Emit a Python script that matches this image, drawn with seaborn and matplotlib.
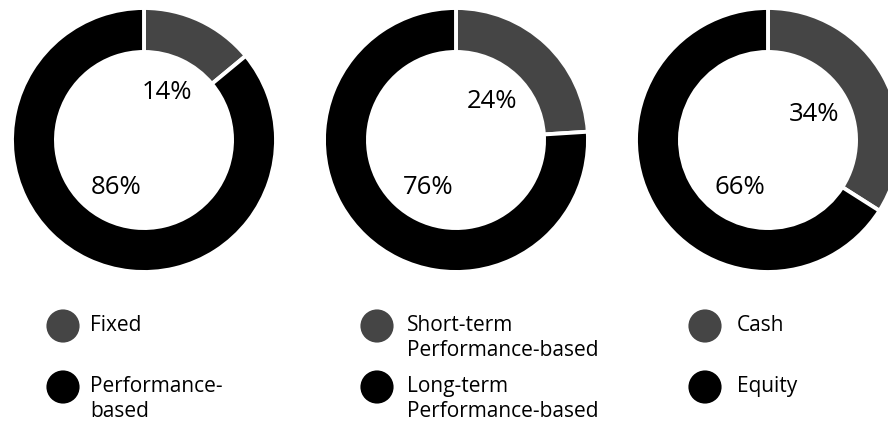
import matplotlib
matplotlib.use("Agg")
import matplotlib.pyplot as plt
import seaborn as sns

# share of each component per donut (grey slice first, then black)
fixed_vs_perf = [14, 86]
short_vs_long = [24, 76]
cash_vs_equity = [34, 66]
chart_values = [fixed_vs_perf, short_vs_long, cash_vs_equity]

legend_labels = [
    ["Fixed", "Performance-\nbased"],
    ["Short-term\nPerformance-based", "Long-term\nPerformance-based"],
    ["Cash", "Equity"],
]

sns.set_theme(style="white")
plt.rcParams["font.family"] = ["Open Sans", "DejaVu Sans"]

W, H = 888, 421
fig = plt.figure(figsize=(W / 100, H / 100), dpi=100)
fig.patch.set_facecolor("white")

slice_colors = ["#454545", "#000000"]
centers_x = [144, 456, 768]
center_y = 140
radius = 132
legend_marker_x = [63, 377, 705]
legend_text_x = [90, 407, 737]
legend_rows_y = [326, 387]

for i, vals in enumerate(chart_values):
    cx = centers_x[i]
    ax = fig.add_axes([(cx - radius) / W, (H - center_y - radius) / H,
                       2 * radius / W, 2 * radius / H])
    wedges, _, autotexts = ax.pie(
        vals, colors=slice_colors, startangle=90, counterclock=False,
        radius=1.0, autopct="%d%%", pctdistance=0.4,
        wedgeprops=dict(width=0.333, edgecolor="white", linewidth=2.8),
        textprops=dict(fontsize=18.5, color="black"),
    )
    # the large share sits low-left inside the hole
    autotexts[1].set_position((-0.21, -0.36))
    ax.set_xlim(-1, 1)
    ax.set_ylim(-1, 1)
    ax.axis("off")

# legend layer in pixel coordinates
lax = fig.add_axes([0, 0, 1, 1])
lax.set_xlim(0, W)
lax.set_ylim(H, 0)
lax.axis("off")
lax.patch.set_alpha(0)

for i, labels in enumerate(legend_labels):
    for j, lab in enumerate(labels):
        y = legend_rows_y[j]
        lax.scatter([legend_marker_x[i]], [y], s=570, color=slice_colors[j],
                    edgecolors="none")
        lax.text(legend_text_x[i], y - 11, lab, fontsize=15, color="black",
                 va="top", ha="left", linespacing=1.25)

fig.savefig("out.png", dpi=100)
